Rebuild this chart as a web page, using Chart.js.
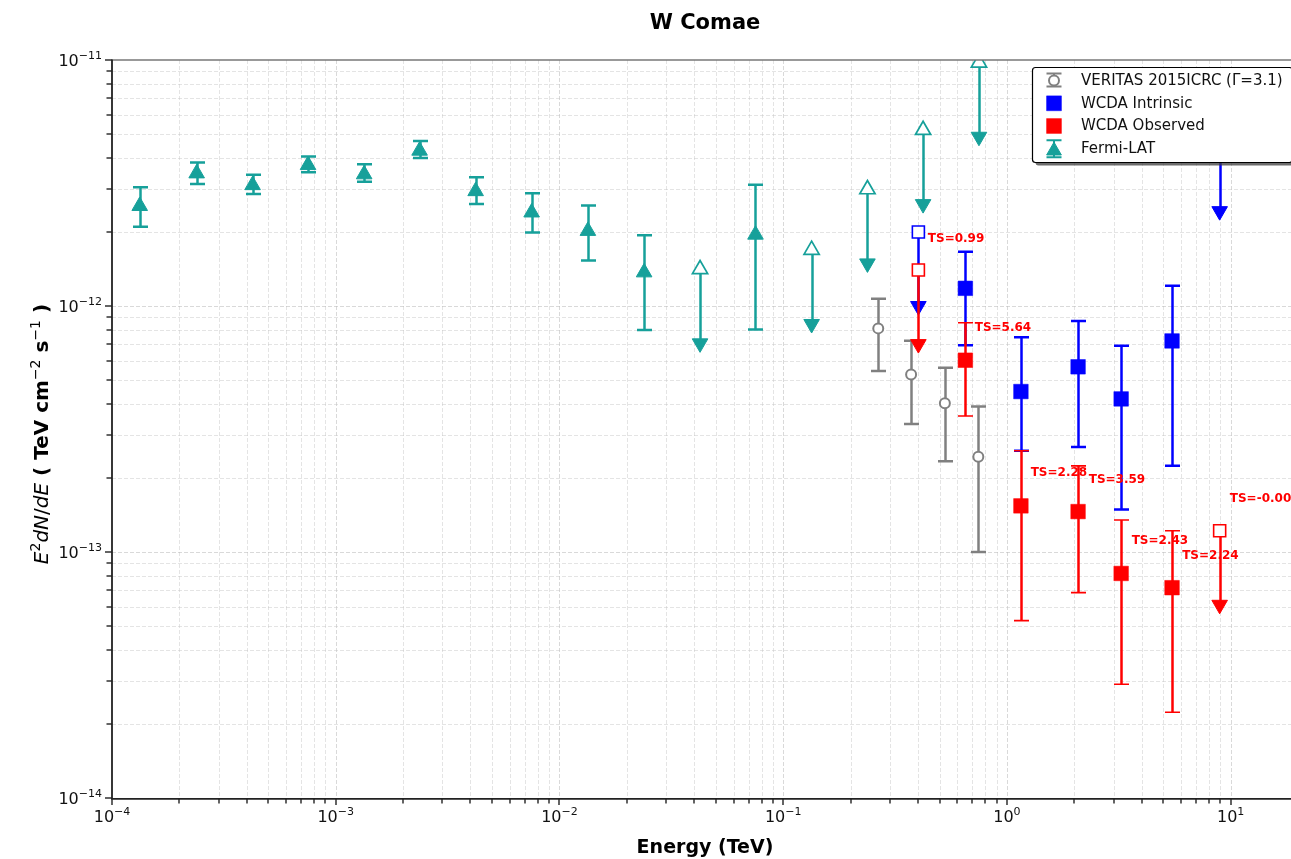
<!DOCTYPE html>
<html>
<head>
<meta charset="utf-8">
<title>W Comae</title>
<script src="https://cdn.jsdelivr.net/npm/chart.js@4.4.1/dist/chart.umd.min.js"></script>
<style>
html,body{margin:0;padding:0;background:#fff;overflow:hidden;}
#wrap{width:1291px;height:859px;overflow:hidden;position:relative;background:#fff;}
canvas{display:block;}
</style>
</head>
<body>
<div id="wrap"><canvas id="chart" width="1310" height="859"></canvas></div>
<script>
// ---------------- data ----------------
// Fermi-LAT detections
const fermiE  = [1.33e-4, 2.39e-4, 4.25e-4, 7.52e-4, 1.34e-3, 2.37e-3, 4.22e-3, 7.51e-3, 1.34e-2, 2.39e-2, 7.52e-2];
const fermiF  = [2.55e-12, 3.46e-12, 3.10e-12, 3.74e-12, 3.43e-12, 4.28e-12, 2.93e-12, 2.40e-12, 2.02e-12, 1.37e-12, 1.95e-12];
const fermiHi = [3.04e-12, 3.83e-12, 3.42e-12, 4.05e-12, 3.77e-12, 4.69e-12, 3.34e-12, 2.87e-12, 2.56e-12, 1.94e-12, 3.11e-12];
const fermiLo = [2.10e-12, 3.13e-12, 2.85e-12, 3.50e-12, 3.20e-12, 4.00e-12, 2.60e-12, 1.99e-12, 1.53e-12, 7.98e-13, 8.03e-13];
// Fermi-LAT upper limits
const fermiUlE = [4.25e-2, 0.134, 0.238, 0.422, 0.750];
const fermiUl  = [1.41e-12, 1.69e-12, 2.98e-12, 5.19e-12, 9.75e-12];
// VERITAS 2015 ICRC
const verE  = [0.266, 0.373, 0.528, 0.745];
const verF  = [8.11e-13, 5.27e-13, 4.02e-13, 2.44e-13];
const verHi = [1.07e-12, 7.22e-13, 5.61e-13, 3.90e-13];
const verLo = [5.44e-13, 3.31e-13, 2.34e-13, 1.00e-13];
// WCDA intrinsic
const wiE  = [0.652, 1.155, 2.08, 3.24, 5.47];
const wiF  = [1.18e-12, 4.49e-13, 5.66e-13, 4.19e-13, 7.21e-13];
const wiHi = [1.66e-12, 7.46e-13, 8.69e-13, 6.90e-13, 1.21e-12];
const wiLo = [6.93e-13, 2.58e-13, 2.67e-13, 1.49e-13, 2.24e-13];
const wiUlE = [0.402, 8.93];
const wiUl  = [2.00e-12, 4.86e-12];
// WCDA observed
const woE  = [0.652, 1.155, 2.08, 3.24, 5.47];
const woF  = [6.02e-13, 1.54e-13, 1.46e-13, 8.18e-14, 7.16e-14];
const woHi = [8.55e-13, 2.58e-13, 2.24e-13, 1.35e-13, 1.22e-13];
const woLo = [3.57e-13, 5.26e-14, 6.84e-14, 2.90e-14, 2.23e-14];
const woUlE = [0.402, 8.93];
const woUl  = [1.40e-12, 1.22e-13];
// TS annotations
const tsText = ['TS=0.99', 'TS=5.64', 'TS=2.28', 'TS=3.59', 'TS=2.43', 'TS=2.24', 'TS=-0.00'];
const tsX    = [0.443, 0.718, 1.277, 2.32, 3.61, 6.07, 9.91];
const tsY    = [1.88e-12, 8.16e-13, 2.10e-13, 1.96e-13, 1.11e-13, 9.67e-14, 1.64e-13];
// axes
const xMin = 1e-4, xMax = 20, yMin = 1e-14, yMax = 1e-11;
const xTickValues = [1e-4, 1e-3, 1e-2, 1e-1, 1, 10];
const xTickExps   = ['\u22124', '\u22123', '\u22122', '\u22121', '0', '1'];
const yTickValues = [1e-14, 1e-13, 1e-12, 1e-11];
const yTickExps   = ['\u221214', '\u221213', '\u221212', '\u221211'];
const legendLabels = ['VERITAS 2015ICRC (\u0393=3.1)', 'WCDA Intrinsic', 'WCDA Observed', 'Fermi-LAT'];
const titleText = 'W Comae';
const xTitle = 'Energy (TeV)';
const ulArrowFactor = 0.5; // arrow drawn from the limit down by a factor 2

// ---------------- style ----------------
const TEAL = '#16a09a', BLUE = '#0000ff', RED = '#ff0000', GRAY = '#808080';
const FONT = '"DejaVu Sans", "Liberation Sans", sans-serif';
const LW = 2.5;

function pts(xs, ys) { return xs.map((x, i) => ({x: x, y: ys[i]})); }
function heads(xs, ys) { return xs.map((x, i) => ({x: x, y: ys[i] * ulArrowFactor})); }

const datasets = [];
function add(d) {
  datasets.push(Object.assign({showLine: false, clip: 0, pointRotation: 0}, d));
}
// Fermi
add({label: 'Fermi-LAT', data: pts(fermiE, fermiF), pointStyle: 'triangle', pointRadius: 9,
  pointBackgroundColor: TEAL, pointBorderColor: TEAL, pointBorderWidth: 1,
  errHi: fermiHi, errLo: fermiLo, errColor: TEAL, capHalf: 7.5, errWidth: LW});
add({label: 'Fermi UL', data: pts(fermiUlE, fermiUl), pointStyle: 'triangle', pointRadius: 8.8,
  pointBackgroundColor: '#ffffff', pointBorderColor: TEAL, pointBorderWidth: 1.7,
  ulColor: TEAL, ulWidth: LW});
add({label: 'Fermi UL head', data: heads(fermiUlE, fermiUl), pointStyle: 'triangle', pointRotation: 180, pointRadius: 9,
  pointBackgroundColor: TEAL, pointBorderColor: TEAL, pointBorderWidth: 1});
// VERITAS
add({label: 'VERITAS', data: pts(verE, verF), pointStyle: 'circle', pointRadius: 5,
  pointBackgroundColor: '#ffffff', pointBorderColor: GRAY, pointBorderWidth: 2,
  errHi: verHi, errLo: verLo, errColor: GRAY, capHalf: 7.5, errWidth: LW});
// WCDA intrinsic
add({label: 'WCDA Intrinsic', data: pts(wiE, wiF), pointStyle: 'rect', pointRadius: 10.3,
  pointBackgroundColor: BLUE, pointBorderColor: BLUE, pointBorderWidth: 0.5,
  errHi: wiHi, errLo: wiLo, errColor: BLUE, capHalf: 7.5, errWidth: LW});
add({label: 'WCDA Intrinsic UL', data: pts(wiUlE, wiUl), pointStyle: 'rect', pointRadius: 8.5,
  pointBackgroundColor: '#ffffff', pointBorderColor: BLUE, pointBorderWidth: 1.6,
  ulColor: BLUE, ulWidth: LW});
add({label: 'WCDA Intrinsic UL head', data: heads(wiUlE, wiUl), pointStyle: 'triangle', pointRotation: 180, pointRadius: 9,
  pointBackgroundColor: BLUE, pointBorderColor: BLUE, pointBorderWidth: 1});
// WCDA observed
add({label: 'WCDA Observed', data: pts(woE, woF), pointStyle: 'rect', pointRadius: 10.3,
  pointBackgroundColor: RED, pointBorderColor: RED, pointBorderWidth: 0.5,
  errHi: woHi, errLo: woLo, errColor: RED, capHalf: 7.5, errWidth: LW, capWidth: 1.6});
add({label: 'WCDA Observed UL', data: pts(woUlE, woUl), pointStyle: 'rect', pointRadius: 8.5,
  pointBackgroundColor: '#ffffff', pointBorderColor: RED, pointBorderWidth: 1.6,
  ulColor: RED, ulWidth: LW});
add({label: 'WCDA Observed UL head', data: heads(woUlE, woUl), pointStyle: 'triangle', pointRotation: 180, pointRadius: 9,
  pointBackgroundColor: RED, pointBorderColor: RED, pointBorderWidth: 1});
// draw in list order (first listed drawn first)
datasets.forEach((d, i) => { d.order = datasets.length - i; d.pointHoverRadius = d.pointRadius; });

function minorValues(lo, hi) {
  const out = [];
  for (let e = Math.floor(Math.log10(lo)); e <= Math.ceil(Math.log10(hi)); e++) {
    for (let k = 1; k <= 9; k++) {
      const v = k * Math.pow(10, e);
      if (v >= lo * 0.999 && v <= hi * 1.001) out.push({v: v, major: k === 1});
    }
  }
  return out;
}

function drawPow(ctx, exp, x, y, align, baseSize, supSize, raise) {
  ctx.font = baseSize + 'px ' + FONT;
  const wb = ctx.measureText('10').width;
  ctx.font = supSize + 'px ' + FONT;
  const we = ctx.measureText(exp).width;
  const w = wb + we;
  let sx = align === 'center' ? x - w / 2 : x - w;
  ctx.textAlign = 'left';
  ctx.textBaseline = 'alphabetic';
  ctx.font = baseSize + 'px ' + FONT;
  ctx.fillText('10', sx, y);
  ctx.font = supSize + 'px ' + FONT;
  ctx.fillText(exp, sx + wb, y - raise);
}

const sedPlugin = {
  id: 'sed',
  beforeDatasetsDraw(chart) {
    const ctx = chart.ctx, a = chart.chartArea, sx = chart.scales.x, sy = chart.scales.y;
    ctx.save();
    ctx.lineWidth = 1;
    ctx.setLineDash([4, 2]);
    minorValues(xMin, xMax).forEach(t => {
      const px = Math.round(sx.getPixelForValue(t.v)) + 0.5;
      if (px <= a.left + 1 || px >= a.right - 1) return;
      ctx.strokeStyle = t.major ? 'rgba(185,185,185,0.55)' : 'rgba(195,195,195,0.45)';
      ctx.beginPath(); ctx.moveTo(px, a.top); ctx.lineTo(px, a.bottom); ctx.stroke();
    });
    minorValues(yMin, yMax).forEach(t => {
      const py = Math.round(sy.getPixelForValue(t.v)) + 0.5;
      if (py <= a.top + 1 || py >= a.bottom - 1) return;
      ctx.strokeStyle = t.major ? 'rgba(185,185,185,0.55)' : 'rgba(195,195,195,0.45)';
      ctx.beginPath(); ctx.moveTo(a.left, py); ctx.lineTo(a.right, py); ctx.stroke();
    });
    ctx.restore();
  },
  beforeDatasetDraw(chart, args) {
    const d = chart.data.datasets[args.index];
    const ctx = chart.ctx, a = chart.chartArea, sx = chart.scales.x, sy = chart.scales.y;
    ctx.save();
    ctx.beginPath(); ctx.rect(a.left, a.top, a.right - a.left, a.bottom - a.top); ctx.clip();
    ctx.setLineDash([]);
    if (d.errHi) {
      ctx.strokeStyle = d.errColor;
      d.data.forEach((p, i) => {
        const x = Math.round(sx.getPixelForValue(p.x)) + 0.5;
        const yh = sy.getPixelForValue(d.errHi[i]);
        const yl = sy.getPixelForValue(d.errLo[i]);
        ctx.lineWidth = d.errWidth;
        ctx.beginPath(); ctx.moveTo(x, yh); ctx.lineTo(x, yl); ctx.stroke();
        ctx.lineWidth = d.capWidth || d.errWidth;
        ctx.beginPath();
        ctx.moveTo(x - d.capHalf, yh); ctx.lineTo(x + d.capHalf, yh);
        ctx.moveTo(x - d.capHalf, yl); ctx.lineTo(x + d.capHalf, yl);
        ctx.stroke();
      });
    }
    if (d.ulColor) {
      ctx.strokeStyle = d.ulColor;
      ctx.lineWidth = d.ulWidth;
      d.data.forEach(p => {
        const x = Math.round(sx.getPixelForValue(p.x)) + 0.5;
        const y1 = sy.getPixelForValue(p.y);
        const y2 = sy.getPixelForValue(p.y * ulArrowFactor);
        ctx.beginPath(); ctx.moveTo(x, y1); ctx.lineTo(x, y2); ctx.stroke();
      });
    }
    ctx.restore();
  },
  afterDatasetsDraw(chart) {
    const ctx = chart.ctx, a = chart.chartArea, sx = chart.scales.x, sy = chart.scales.y;
    ctx.save();
    // TS annotations
    ctx.fillStyle = RED;
    ctx.font = 'bold 12px ' + FONT;
    ctx.textAlign = 'left';
    ctx.textBaseline = 'middle';
    tsText.forEach((t, i) => {
      ctx.fillText(t, sx.getPixelForValue(tsX[i]), sy.getPixelForValue(tsY[i]));
    });
    // spines
    ctx.strokeStyle = '#777';
    ctx.lineWidth = 1.5;
    ctx.beginPath(); ctx.moveTo(a.left, a.top); ctx.lineTo(a.right, a.top); ctx.stroke();
    ctx.beginPath(); ctx.moveTo(a.right, a.top); ctx.lineTo(a.right, a.bottom); ctx.stroke();
    ctx.strokeStyle = '#222';
    ctx.lineWidth = 1.8;
    ctx.beginPath(); ctx.moveTo(a.left, a.top - 0.5); ctx.lineTo(a.left, a.bottom + 0.9); ctx.lineTo(a.right, a.bottom + 0.9); ctx.stroke();
    // ticks
    ctx.strokeStyle = '#222';
    ctx.lineWidth = 1.4;
    minorValues(xMin, xMax).forEach(t => {
      const px = Math.round(sx.getPixelForValue(t.v));
      if (px > a.right) return;
      const L = t.major ? 7 : 5.5;
      ctx.beginPath(); ctx.moveTo(px, a.bottom); ctx.lineTo(px, a.bottom + L); ctx.stroke();
    });
    minorValues(yMin, yMax).forEach(t => {
      const py = Math.round(sy.getPixelForValue(t.v));
      const L = t.major ? 7 : 5.5;
      ctx.beginPath(); ctx.moveTo(a.left, py); ctx.lineTo(a.left - L, py); ctx.stroke();
    });
    // tick labels
    ctx.fillStyle = '#111';
    xTickValues.forEach((v, i) => {
      drawPow(ctx, xTickExps[i], sx.getPixelForValue(v), a.bottom + 24, 'center', 16, 11, 7.5);
    });
    yTickValues.forEach((v, i) => {
      drawPow(ctx, yTickExps[i], a.left - 10, sy.getPixelForValue(v) + 6, 'right', 16, 11, 7.5);
    });
    // title
    ctx.fillStyle = '#000';
    ctx.textAlign = 'center';
    ctx.textBaseline = 'alphabetic';
    ctx.font = 'bold 21px ' + FONT;
    ctx.fillText(titleText, (a.left + a.right) / 2, 29);
    // x title
    ctx.font = 'bold 19px ' + FONT;
    ctx.fillText(xTitle, (a.left + a.right) / 2, 853);
    // y title (rotated, mixed fonts)
    const parts = [
      {t: 'E', f: 'italic 20px ' + FONT, r: 0},
      {t: '2', f: '14px ' + FONT, r: 8.5},
      {t: 'dN', f: 'italic 20px ' + FONT, r: 0},
      {t: '/', f: '20px ' + FONT, r: 0},
      {t: 'dE', f: 'italic 20px ' + FONT, r: 0},
      {t: ' ( TeV cm', f: 'bold 20px ' + FONT, r: 0},
      {t: '\u22122', f: '14px ' + FONT, r: 8.5},
      {t: ' s', f: 'bold 20px ' + FONT, r: 0},
      {t: '\u22121', f: '14px ' + FONT, r: 8.5},
      {t: ' )', f: 'bold 20px ' + FONT, r: 0}
    ];
    let tw = 0;
    parts.forEach(p => { ctx.font = p.f; p.w = ctx.measureText(p.t).width; tw += p.w; });
    ctx.save();
    ctx.translate(48, 434);
    ctx.rotate(-Math.PI / 2);
    ctx.textAlign = 'left';
    let cx = -tw / 2;
    parts.forEach(p => { ctx.font = p.f; ctx.fillText(p.t, cx, -p.r); cx += p.w; });
    ctx.restore();
    ctx.restore();
  },
  afterDraw(chart) {
    const ctx = chart.ctx;
    const H = Chart.helpers;
    ctx.save();
    const bx = 1032.5, by = 67.5, bw = 260, bh = 95, r = 3;
    function rr(x, y, w, h) {
      ctx.beginPath();
      ctx.moveTo(x + r, y); ctx.lineTo(x + w - r, y); ctx.quadraticCurveTo(x + w, y, x + w, y + r);
      ctx.lineTo(x + w, y + h - r); ctx.quadraticCurveTo(x + w, y + h, x + w - r, y + h);
      ctx.lineTo(x + r, y + h); ctx.quadraticCurveTo(x, y + h, x, y + h - r);
      ctx.lineTo(x, y + r); ctx.quadraticCurveTo(x, y, x + r, y); ctx.closePath();
    }
    ctx.fillStyle = 'rgba(60,60,60,0.75)';
    rr(bx + 3, by + 3, bw, bh); ctx.fill();
    ctx.fillStyle = '#ffffff';
    rr(bx, by, bw, bh); ctx.fill();
    ctx.strokeStyle = '#000';
    ctx.lineWidth = 1.2;
    rr(bx, by, bw, bh); ctx.stroke();
    const mx = 1054, rows = [80.5, 103.3, 126, 148.7];
    // VERITAS glyph
    ctx.strokeStyle = GRAY; ctx.lineWidth = 2;
    ctx.beginPath();
    ctx.moveTo(mx, rows[0] - 7); ctx.lineTo(mx, rows[0] + 6);
    ctx.moveTo(mx - 7.5, rows[0] - 7); ctx.lineTo(mx + 7.5, rows[0] - 7);
    ctx.moveTo(mx - 7.5, rows[0] + 6); ctx.lineTo(mx + 7.5, rows[0] + 6);
    ctx.stroke();
    ctx.fillStyle = '#fff'; ctx.strokeStyle = GRAY; ctx.lineWidth = 2;
    H.drawPoint(ctx, {pointStyle: 'circle', radius: 5, rotation: 0, borderWidth: 2}, mx, rows[0]);
    // WCDA squares
    ctx.lineWidth = 0.5;
    ctx.fillStyle = BLUE; ctx.strokeStyle = BLUE;
    H.drawPoint(ctx, {pointStyle: 'rect', radius: 10.5, rotation: 0, borderWidth: 0.5}, mx, rows[1]);
    ctx.fillStyle = RED; ctx.strokeStyle = RED;
    H.drawPoint(ctx, {pointStyle: 'rect', radius: 10.5, rotation: 0, borderWidth: 0.5}, mx, rows[2]);
    // Fermi glyph
    ctx.strokeStyle = TEAL; ctx.lineWidth = 2;
    ctx.beginPath();
    ctx.moveTo(mx, rows[3] - 8.5); ctx.lineTo(mx, rows[3] + 8.5);
    ctx.moveTo(mx - 7.5, rows[3] - 8.5); ctx.lineTo(mx + 7.5, rows[3] - 8.5);
    ctx.moveTo(mx - 7.5, rows[3] + 8.5); ctx.lineTo(mx + 7.5, rows[3] + 8.5);
    ctx.stroke();
    ctx.fillStyle = TEAL; ctx.lineWidth = 1;
    H.drawPoint(ctx, {pointStyle: 'triangle', radius: 8.5, rotation: 0, borderWidth: 1}, mx, rows[3] + 2);
    // texts
    ctx.fillStyle = '#111';
    ctx.font = '15px ' + FONT;
    ctx.textAlign = 'left';
    ctx.textBaseline = 'middle';
    legendLabels.forEach((t, i) => ctx.fillText(t, 1081, rows[i] + 0.5));
    ctx.restore();
  }
};

new Chart(document.getElementById('chart'), {
  type: 'scatter',
  data: {datasets: datasets},
  options: {
    responsive: false,
    animation: false,
    devicePixelRatio: 1,
    events: [],
    layout: {padding: {left: 112, right: 12, top: 60, bottom: 61}},
    plugins: {legend: {display: false}, tooltip: {enabled: false}, title: {display: false}},
    scales: {
      x: {type: 'logarithmic', min: xMin, max: xMax, display: false},
      y: {type: 'logarithmic', min: yMin, max: yMax, display: false}
    }
  },
  plugins: [sedPlugin]
});
</script>
</body>
</html>
